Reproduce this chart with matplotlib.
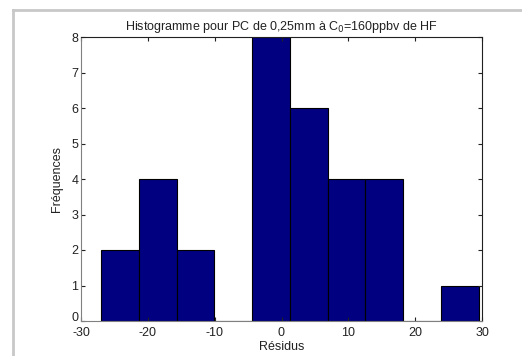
import numpy as np
import matplotlib.pyplot as plt
import matplotlib.transforms as mtransforms
from matplotlib.lines import Line2D

plt.rcParams['font.family'] = ['Liberation Sans', 'DejaVu Sans']
plt.rcParams['axes.unicode_minus'] = False

bin_edges = [-27.0, -21.35, -15.7, -10.05, -4.4, 1.25, 6.9, 12.55, 18.2, 23.85, 29.5]
counts = [2, 4, 2, 0, 8, 6, 4, 4, 0, 1]
x_ticks = [-30, -20, -10, 0, 10, 20, 30]
y_ticks = [0, 1, 2, 3, 4, 5, 6, 7, 8]

fig = plt.figure(figsize=(5.22, 3.56), dpi=100)
ax = fig.add_axes([81 / 522, 35 / 356, 401 / 522, 284 / 356])

edges = np.array(bin_edges)
ax.bar(edges[:-1], counts, width=np.diff(edges), align='edge',
       color='#000080', edgecolor='black', linewidth=0.8)

ax.set_xlim(-30, 30)
ax.set_ylim(0, 8)
ax.set_xticks(x_ticks)
ax.set_yticks(y_ticks)
ax.tick_params(direction='in', top=True, right=True, labelsize=9, length=3,
               colors='#222222', pad=2)
ax.tick_params(axis='x', pad=4)
for s in ['left', 'bottom']:
    ax.spines[s].set_color('#808080')
for s in ['top', 'right']:
    ax.spines[s].set_color('#202020')

# le "0" de l'axe y remonte un peu pour ne pas chevaucher "-30"
lbl0 = ax.get_yticklabels()[0]
lbl0.set_transform(lbl0.get_transform() +
                   mtransforms.ScaledTranslation(0, 3 / 72, fig.dpi_scale_trans))

ax.set_title('Histogramme pour PC de 0,25mm à C$_0$=160ppbv de HF',
             fontsize=9, color='#222222', pad=5)
ax.set_xlabel('Résidus', fontsize=9, color='#222222', labelpad=2)
ax.set_ylabel('Fréquences', fontsize=9, color='#222222', labelpad=6)

# cadre gris de la fenêtre
fig.add_artist(Line2D([13 / 522, 1], [1 - 10 / 356, 1 - 10 / 356],
                      color='#c8c8c8', linewidth=2, transform=fig.transFigure))
fig.add_artist(Line2D([13 / 522, 13 / 522], [0, 1 - 10 / 356],
                      color='#c8c8c8', linewidth=2, transform=fig.transFigure))

fig.savefig('out.png', dpi=100)
